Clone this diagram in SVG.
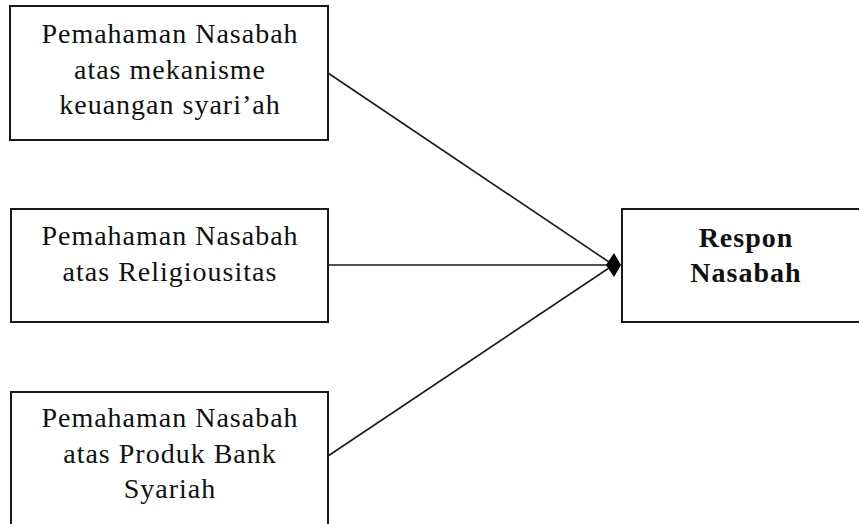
<svg xmlns="http://www.w3.org/2000/svg" width="859" height="524" viewBox="0 0 859 524">
<style>
.box{fill:#fff;stroke:#1a1a1a;stroke-width:2}
.t{font-family:"Liberation Serif","Times New Roman",serif;font-size:28px;letter-spacing:1px;fill:#111;text-anchor:middle}
.b{font-weight:bold}
.ln{stroke:#1a1a1a;stroke-width:1.6;fill:none}
</style>
<rect width="859" height="524" fill="#fff"/>
<g id="node-mekanisme">
<rect class="box" x="10" y="6" width="318" height="134"/>
<text class="t" x="170" y="43">Pemahaman Nasabah</text>
<text class="t" x="170" y="79">atas mekanisme</text>
<text class="t" x="170" y="114">keuangan syari’ah</text>
</g>
<g id="node-religiousitas">
<rect class="box" x="11" y="209" width="317" height="113"/>
<text class="t" x="170" y="245">Pemahaman Nasabah</text>
<text class="t" x="170" y="281">atas Religiousitas</text>
</g>
<g id="node-produk">
<rect class="box" x="11" y="392" width="317" height="140"/>
<text class="t" x="170" y="427">Pemahaman Nasabah</text>
<text class="t" x="170" y="463">atas Produk Bank</text>
<text class="t" x="170" y="498">Syariah</text>
</g>
<g id="node-respon">
<rect class="box" x="622" y="209" width="240" height="113"/>
<text class="t b" x="746" y="247">Respon</text>
<text class="t b" x="746" y="282">Nasabah</text>
</g>
<g id="connectors">
<line class="ln" x1="328" y1="73" x2="609" y2="262"/>
<line class="ln" x1="328" y1="265" x2="609" y2="265"/>
<line class="ln" x1="328" y1="456" x2="609" y2="268"/>
<polygon points="606,265 614,253 621,265 614,277" fill="#000"/>
</g>
</svg>
